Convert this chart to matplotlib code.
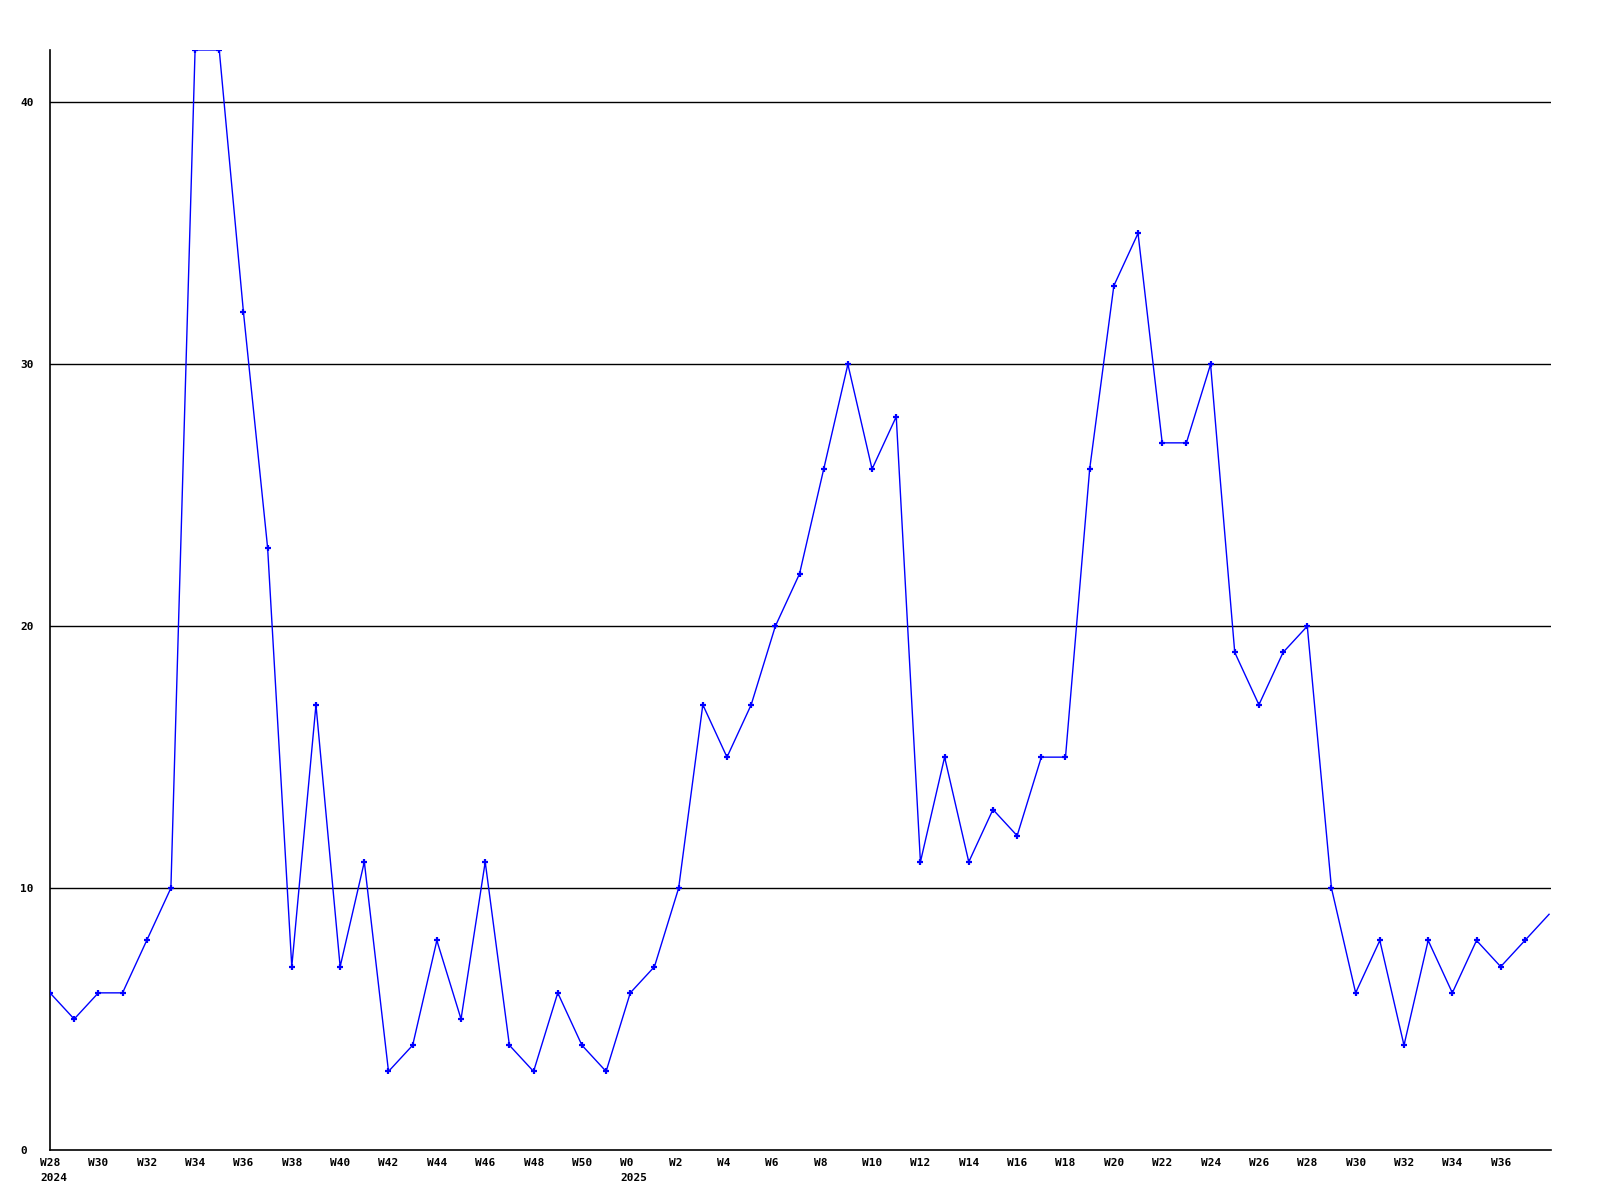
import matplotlib
matplotlib.use("Agg")
import matplotlib.pyplot as plt
import matplotlib.transforms as mtransforms

# weekly counts, W28 2024 .. W38 2025
weeks_2024 = list(range(28, 52))
weeks_2025 = list(range(0, 39))
values_2024 = [6, 5, 6, 6, 8, 10, 42, 42, 32, 23, 7, 17, 7, 11, 3, 4, 8, 5, 11, 4, 3, 6, 4, 3]
values_2025 = [6, 7, 10, 17, 15, 17, 20, 22, 26, 30, 26, 28, 11, 15, 11, 13, 12, 15, 15,
               26, 33, 35, 27, 27, 30, 19, 17, 19, 20, 10, 6, 8, 4, 8, 6, 8, 7, 8, 9]

labels = ["W%d" % w for w in weeks_2024] + ["W%d" % w for w in weeks_2025]
values = values_2024 + values_2025
x = list(range(len(values)))

fig = plt.figure(figsize=(16, 12), dpi=100)
ax = fig.add_axes([50 / 1600, 1 - 1150 / 1200, 1501 / 1600, 1100 / 1200])

ax.plot(x, values, color="#0000ff", lw=1.0, marker="+", ms=5, mew=1.6,
        markevery=list(range(len(values) - 1)), zorder=3)

ax.set_xlim(0, len(values) - 1 + 0.08)
ax.set_ylim(0, 42)

for y in [10, 20, 30, 40]:
    ax.axhline(y, color="black", lw=1.0, zorder=1)

for s in ["top", "right"]:
    ax.spines[s].set_visible(False)
for s in ["left", "bottom"]:
    ax.spines[s].set_color("black")
    ax.spines[s].set_linewidth(1.2)

font = dict(family="DejaVu Sans Mono", weight="bold", size=8)

ax.set_yticks([0, 10, 20, 30, 40])
ax.set_yticklabels(["0", "10", "20", "30", "40"], **font)
for t in ax.get_yticklabels():
    t.set_horizontalalignment("left")
ax.tick_params(axis="y", length=0, pad=21.6)

ticks = x[::2][:-1]
ax.set_xticks(ticks)
ax.set_xticklabels([labels[i] for i in ticks], **font)
ax.tick_params(axis="x", length=0, pad=6)
shift = mtransforms.ScaledTranslation(-10 / 100, 0, fig.dpi_scale_trans)
for t in ax.get_xticklabels():
    t.set_horizontalalignment("left")
    t.set_transform(t.get_transform() + shift)

# year labels under first week of each year
trans = mtransforms.blended_transform_factory(ax.transData, ax.transAxes)
for idx, year in [(0, "2024"), (len(weeks_2024), "2025")]:
    ax.annotate(year, (idx, 0), xycoords=trans, xytext=(-7.2, -16.5),
                textcoords="offset points", ha="left", va="top", **font)

fig.savefig("out.png", dpi=100)
